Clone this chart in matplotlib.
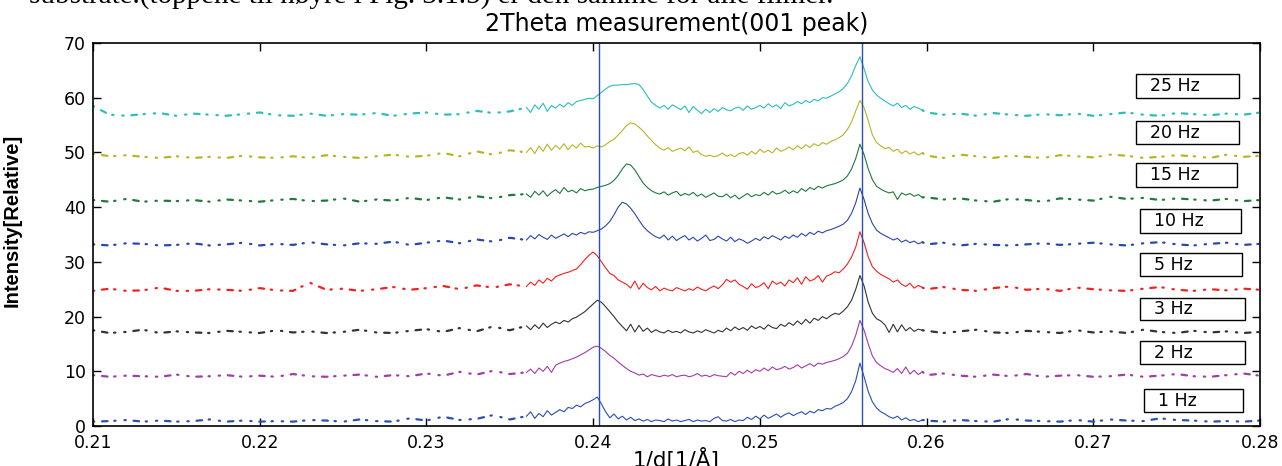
import numpy as np
import matplotlib
matplotlib.use("Agg")
import matplotlib.pyplot as plt
from matplotlib.patches import Rectangle

# ---------------- data ----------------
# measurement grid: coarse far from the peaks, fine around them
x_left = np.arange(0.210, 0.2355, 0.001)      # 26 points
x_mid = np.arange(0.236, 0.25999, 0.00025)    # 96 points
x_right = np.arange(0.260, 0.28005, 0.001)    # 21 points

labels = ["1 Hz", "2 Hz", "3 Hz", "5 Hz", "10 Hz", "15 Hz", "20 Hz", "25 Hz"]
offsets = [0.8, 9.0, 17.0, 24.7, 33.0, 41.0, 49.0, 56.7]
peak_lines = [0.24035, 0.2561]

i1_left = [0.0,0.1,0.3,0.0,0.2,0.0,0.1,0.4,0.0,0.2,0.0,0.1,0.0,0.3,0.2,0.0,0.4,0.1,0.0,0.6,0.2,0.9,0.3,0.5,1.2,0.4]
i1_mid = [1.0,1.8,0.6,1.5,0.9,2.0,1.2,1.7,
          2.2,1.8,2.6,2.4,3.0,2.7,3.3,3.6,
          4.0,4.5,3.2,1.8,0.7,1.4,0.5,1.0,
          0.3,0.8,0.2,0.5,0.1,0.4,0.0,0.3,
          0.2,0.0,0.5,0.1,0.3,0.0,0.2,0.4,
          0.0,0.3,0.1,0.2,0.0,0.6,0.9,0.2,
          0.1,0.4,0.0,0.3,0.2,0.8,0.4,1.0,
          0.5,1.2,0.6,1.0,1.4,0.8,1.3,1.6,
          1.1,1.5,1.8,1.3,1.9,1.6,2.2,2.0,
          2.4,2.3,2.8,3.1,3.5,4.2,5.5,7.5,
          10.7,8.2,5.5,3.6,2.5,1.8,1.4,0.9,
          0.6,1.0,0.3,0.7,0.2,0.4,0.0,0.3]
i1_right = [0.2,0.0,0.3,0.1,0.0,0.5,0.2,0.1,0.0,0.3,0.0,0.4,0.2,0.1,0.6,0.3,0.2,0.0,0.1,0.0,0.2]

i2_left = [0.3,0.0,0.2,0.1,0.0,0.4,0.0,0.1,0.3,0.0,0.2,0.0,0.5,0.1,0.0,0.2,0.4,0.0,0.3,0.1,0.6,0.2,0.9,0.4,1.1,0.5]
i2_mid = [0.8,1.4,0.6,1.6,1.0,1.9,0.8,2.1,
          2.5,2.8,3.0,3.3,3.6,4.0,4.4,4.9,
          5.4,5.6,5.2,4.6,3.9,3.4,2.7,2.1,
          1.5,1.0,0.7,0.3,0.5,0.0,0.4,0.2,
          0.0,0.3,0.1,0.4,0.0,0.2,0.3,0.0,
          0.2,0.6,0.1,0.3,0.0,0.4,0.2,0.1,
          0.0,0.8,0.3,1.0,0.6,1.2,0.7,1.3,
          1.0,1.6,1.1,1.8,1.3,1.5,1.9,1.4,
          1.7,2.2,1.6,2.0,2.4,1.9,2.5,2.3,
          2.6,2.8,3.0,3.3,3.7,4.3,5.6,7.6,
          10.3,8.5,6.0,3.8,2.6,2.0,1.5,1.2,
          0.8,1.5,0.6,1.8,0.5,1.2,0.4,0.9]
i2_right = [0.3,0.6,0.2,0.0,0.4,0.1,0.5,0.0,0.2,0.3,0.0,0.1,0.4,0.0,0.2,0.5,0.1,0.0,0.3,0.6,0.2]

i3_left = [0.5,0.0,0.2,0.6,0.0,0.3,0.1,0.0,0.4,0.2,0.0,0.5,0.1,0.3,0.0,0.2,0.6,0.1,0.0,0.4,0.7,0.2,0.9,0.3,1.2,0.5]
i3_mid = [1.3,0.6,1.5,0.8,1.8,1.0,1.6,2.0,
          1.7,2.3,2.0,2.6,2.9,3.4,3.9,4.6,
          5.3,6.0,5.6,4.8,3.9,3.0,2.0,1.2,
          0.4,1.6,0.2,1.4,0.3,0.9,0.1,0.6,
          0.2,0.0,0.5,0.1,0.3,0.0,0.6,0.2,
          0.0,0.4,0.1,0.6,0.3,0.0,0.5,0.2,
          0.9,0.4,1.1,0.6,1.0,0.5,1.3,0.8,
          1.2,0.7,1.5,1.0,0.8,1.6,1.2,1.9,
          1.4,2.2,1.6,2.5,1.8,2.7,2.3,3.0,
          2.6,3.2,3.6,3.4,4.0,4.8,6.0,8.0,
          10.5,8.6,5.6,3.6,2.6,2.2,1.5,0.1,
          1.6,0.2,1.5,0.4,1.0,0.3,0.7,0.5]
i3_right = [0.4,0.0,0.3,0.6,0.1,0.0,0.4,0.2,0.0,0.5,0.1,0.3,0.0,0.6,0.2,0.0,0.4,0.1,0.3,0.0,0.2]

i5_left = [0.0,0.4,0.0,0.1,0.6,0.0,0.0,0.3,0.2,0.0,0.5,0.1,0.0,1.5,0.2,0.4,0.0,0.3,0.7,0.2,0.5,0.9,0.3,1.0,0.6,1.2]
i5_mid = [0.8,1.6,1.0,2.0,1.4,2.3,1.8,2.6,
          2.9,3.2,3.4,3.7,4.0,4.8,5.7,6.5,
          7.1,6.4,5.3,4.2,3.2,2.8,2.0,1.6,
          1.2,0.5,1.8,0.3,1.4,0.6,0.2,0.8,
          0.0,0.5,0.2,0.0,0.6,0.3,0.0,0.4,
          0.1,0.7,0.3,0.0,0.5,0.9,0.4,1.1,
          2.1,1.6,2.0,1.2,0.8,0.3,1.3,0.6,
          0.9,1.5,0.4,1.8,1.2,1.6,0.9,2.0,
          1.5,2.4,1.2,2.6,1.8,2.1,2.8,1.6,
          2.7,3.0,3.5,3.3,4.0,4.9,6.2,8.0,
          10.8,8.8,6.2,4.4,3.6,3.0,2.6,2.2,
          1.6,2.0,1.2,0.8,1.4,0.5,1.0,0.6]
i5_right = [0.3,0.7,0.2,0.0,0.5,0.8,0.2,0.4,0.0,0.6,0.3,0.1,0.0,0.4,0.7,0.2,0.0,0.3,0.1,0.4,0.2]

i10_left = [0.2,0.0,0.4,0.3,0.0,0.1,0.4,0.0,0.2,0.5,0.0,0.3,0.1,0.6,0.2,0.0,0.4,0.3,0.7,0.1,0.5,0.9,0.4,1.1,0.7,1.4]
i10_mid = [1.0,1.8,1.2,2.0,1.5,1.1,1.9,1.3,
           1.7,2.1,1.6,2.2,1.9,2.4,2.1,2.5,
           2.4,2.7,3.0,3.6,4.4,5.6,7.0,7.9,
           7.6,6.8,5.8,4.6,3.5,2.7,2.1,1.6,
           1.3,1.9,1.0,1.7,0.9,1.4,1.8,1.0,
           1.5,0.8,1.3,1.9,0.9,1.1,1.7,1.2,
           0.8,1.5,0.7,1.2,0.9,0.4,0.8,1.3,
           0.9,1.6,1.2,1.8,1.4,1.0,1.7,1.3,
           1.9,1.5,2.2,1.7,2.4,2.0,2.6,2.3,
           2.7,2.9,3.2,3.5,3.9,4.6,5.9,7.8,
           10.5,8.4,5.8,4.0,2.8,2.2,1.8,1.4,
           1.0,1.3,0.6,1.0,0.5,0.8,0.3,0.6]
i10_right = [0.2,0.5,0.0,0.3,0.1,0.0,0.2,0.4,0.1,0.3,0.5,0.2,0.0,0.4,0.6,0.2,0.0,0.3,0.5,0.1,0.3]

i15_left = [0.3,0.0,0.5,0.0,0.2,0.1,0.3,0.0,0.4,0.2,0.0,0.3,0.5,0.1,0.2,0.6,0.0,0.4,0.2,0.7,0.3,0.8,0.4,1.0,0.6,1.2]
i15_mid = [1.4,0.8,1.9,1.2,2.0,1.0,1.7,2.2,
           1.5,2.6,1.8,2.1,1.6,2.4,2.0,2.2,
           2.3,2.6,2.8,3.0,3.3,3.9,4.8,6.0,
           6.9,6.7,5.8,4.6,3.4,2.6,2.0,1.6,
           1.4,1.8,1.2,1.6,1.9,1.1,1.5,1.2,
           1.7,1.0,1.4,0.8,1.2,1.6,1.0,0.9,
           1.4,0.7,1.2,0.5,1.0,1.5,0.9,1.3,
           1.1,1.7,1.2,1.9,1.4,1.6,2.1,1.5,
           2.0,1.6,2.4,1.9,2.6,2.2,2.8,2.5,
           2.9,3.1,3.3,3.6,4.0,4.7,6.0,7.9,
           10.5,8.6,6.0,4.0,2.8,2.3,1.9,1.6,
           1.8,0.4,1.6,1.2,1.5,1.0,1.3,0.8]
i15_right = [0.8,0.4,0.6,0.2,0.0,0.5,0.3,0.0,0.6,0.4,0.2,0.9,0.5,0.7,0.3,0.6,0.4,0.2,0.5,0.1,0.3]

i20_left = [0.8,0.3,0.5,0.2,0.0,0.3,0.0,0.2,0.0,0.4,0.1,0.0,0.3,0.0,0.5,0.2,0.0,0.3,0.6,0.2,0.4,0.9,0.3,1.2,0.6,1.4]
i20_mid = [1.0,1.9,0.8,2.2,1.2,2.5,1.4,2.3,
           1.6,2.6,1.5,2.4,1.8,2.7,2.0,2.1,
           1.8,2.2,2.0,2.4,3.0,3.4,4.2,5.0,
           5.9,6.4,6.2,5.6,4.9,4.0,3.2,2.4,
           1.8,1.4,1.9,1.2,1.5,1.8,1.3,2.0,
           1.0,1.3,0.6,0.3,0.5,0.2,0.4,0.9,
           0.3,0.6,0.2,0.8,1.0,0.5,1.2,0.7,
           1.6,1.0,1.4,0.9,1.8,1.2,1.5,2.0,
           1.5,2.2,1.7,2.4,1.9,2.6,2.2,2.8,
           2.5,3.0,3.3,3.7,4.2,5.2,6.6,8.6,
           10.5,9.2,6.8,4.2,2.8,2.2,1.7,1.9,
           1.2,1.6,0.8,1.3,0.7,1.1,0.5,0.9]
i20_right = [0.4,0.0,0.6,0.3,0.0,0.4,0.2,0.0,0.5,0.3,0.1,0.6,0.4,0.0,0.2,0.5,0.3,0.0,0.6,0.2,0.4]

i25_left = [1.8,0.2,0.0,0.3,0.5,0.0,0.4,0.2,0.0,0.3,0.6,0.1,0.0,0.4,0.0,0.3,0.2,0.5,0.0,0.4,0.6,0.2,0.3,0.9,0.5,0.8]
i25_mid = [1.5,0.6,2.0,1.2,2.3,0.8,1.9,1.4,
           2.1,1.6,2.4,1.9,2.6,2.8,3.0,3.2,
           3.1,3.7,4.3,4.9,5.4,5.6,5.6,5.7,
           5.7,5.8,5.9,5.7,4.8,3.6,2.5,1.9,
           1.4,1.9,1.2,2.0,1.6,1.1,1.8,0.6,
           1.7,1.0,0.4,1.2,0.6,1.3,0.8,1.5,
           1.1,0.9,1.4,1.6,1.0,1.8,1.2,1.5,
           1.9,1.4,2.2,1.6,2.0,1.3,2.4,1.8,
           2.1,2.6,2.2,2.8,2.4,3.0,2.7,3.3,
           3.2,3.6,4.0,4.4,5.0,5.9,7.3,9.2,
           10.8,8.6,6.2,4.7,3.8,3.2,2.7,2.2,
           1.8,2.3,1.5,1.9,1.2,1.7,1.4,1.0]
i25_right = [0.6,0.2,0.4,0.0,0.5,0.2,0.0,0.3,0.1,0.4,0.0,0.3,0.6,0.2,0.0,0.5,0.3,0.1,0.4,0.2,0.6]

series = [
    (i1_left, i1_mid, i1_right),
    (i2_left, i2_mid, i2_right),
    (i3_left, i3_mid, i3_right),
    (i5_left, i5_mid, i5_right),
    (i10_left, i10_mid, i10_right),
    (i15_left, i15_mid, i15_right),
    (i20_left, i20_mid, i20_right),
    (i25_left, i25_mid, i25_right),
]

colors = ["#2c4fb0", "#a23ca6", "#333333", "#f42020",
          "#2a48a8", "#1f7a3c", "#b8b428", "#2cbdbd"]

# label boxes in axes fraction: (x0, y0, w, h)
boxes = [(0.9006, 0.0366, 0.0848, 0.060),
         (0.8972, 0.1619, 0.0900, 0.060),
         (0.8972, 0.2768, 0.0900, 0.058),
         (0.8972, 0.3916, 0.0874, 0.060),
         (0.8972, 0.5039, 0.0865, 0.062),
         (0.8937, 0.6240, 0.0865, 0.062),
         (0.8937, 0.7363, 0.0883, 0.060),
         (0.8937, 0.8564, 0.0883, 0.062)]

# ---------------- plot ----------------
plt.rcParams['font.family'] = ['DejaVu Sans']
fig = plt.figure(figsize=(12.82, 4.66), dpi=100)
ax = fig.add_axes([0.0725, 0.0858, 0.9104, 0.8219])

broken = (0, (0.6, 3.5, 2.5, 3.0, 0.6, 4.0))
for (yl, ym, yr), off, col in zip(series, offsets, colors):
    yl_a = np.asarray(yl) + off
    ym_a = np.asarray(ym) + off
    yr_a = np.asarray(yr) + off
    # flat far regions: broken (as rendered in the original figure)
    ax.plot(np.append(x_left, x_mid[0]), np.append(yl_a, ym_a[0]), color=col,
            lw=1.6, ls=broken, dash_capstyle="round")
    ax.plot(np.insert(x_right, 0, x_mid[-1]), np.insert(yr_a, 0, ym_a[-1]), color=col,
            lw=1.6, ls=broken, dash_capstyle="round")
    # central region: solid
    ax.plot(x_mid, ym_a, color=col, lw=0.8)

for xv in peak_lines:
    ax.axvline(xv, color="#2c4fb0", lw=1.0)

for (x0, y0, w, h), lab in zip(boxes, labels):
    ax.add_patch(Rectangle((x0, y0), w, h, transform=ax.transAxes,
                           facecolor="white", edgecolor="black", lw=1.0, zorder=5))
    ax.text(x0 + 0.012, y0 + h / 2, lab, transform=ax.transAxes,
            ha="left", va="center", fontsize=12.5, zorder=6)

ax.set_xlim(0.21, 0.28)
ax.set_ylim(0, 70)
ax.set_xticks(np.arange(0.21, 0.2801, 0.01))
ax.set_xticklabels(["0.21", "0.22", "0.23", "0.24", "0.25", "0.26", "0.27", "0.28"])
ax.set_yticks(np.arange(0, 71, 10))
ax.tick_params(direction="in", top=True, right=True, labelsize=12.5, length=6, width=1.0)
ax.tick_params(axis="x", pad=6)
ax.tick_params(axis="y", pad=5)
for s in ax.spines.values():
    s.set_linewidth(1.2)

ax.set_title("2Theta measurement(001 peak)", fontsize=17, pad=9)
ax.set_xlabel("1/d[1/Å]", fontsize=15.5, labelpad=-3)
ax.set_ylabel("Intensity[Relative]", fontsize=14.5, fontweight="bold",
              family="Liberation Sans")
ax.yaxis.set_label_coords(-0.061, 0.538)

fig.text(0.023, (466 - 4) / 466,
         "substrate.(toppene til høyre i Fig. 3.1.5) er den samme for alle filmer.",
         family="Liberation Serif", fontsize=21, va="baseline", ha="left")

fig.savefig("out.png", dpi=100)
